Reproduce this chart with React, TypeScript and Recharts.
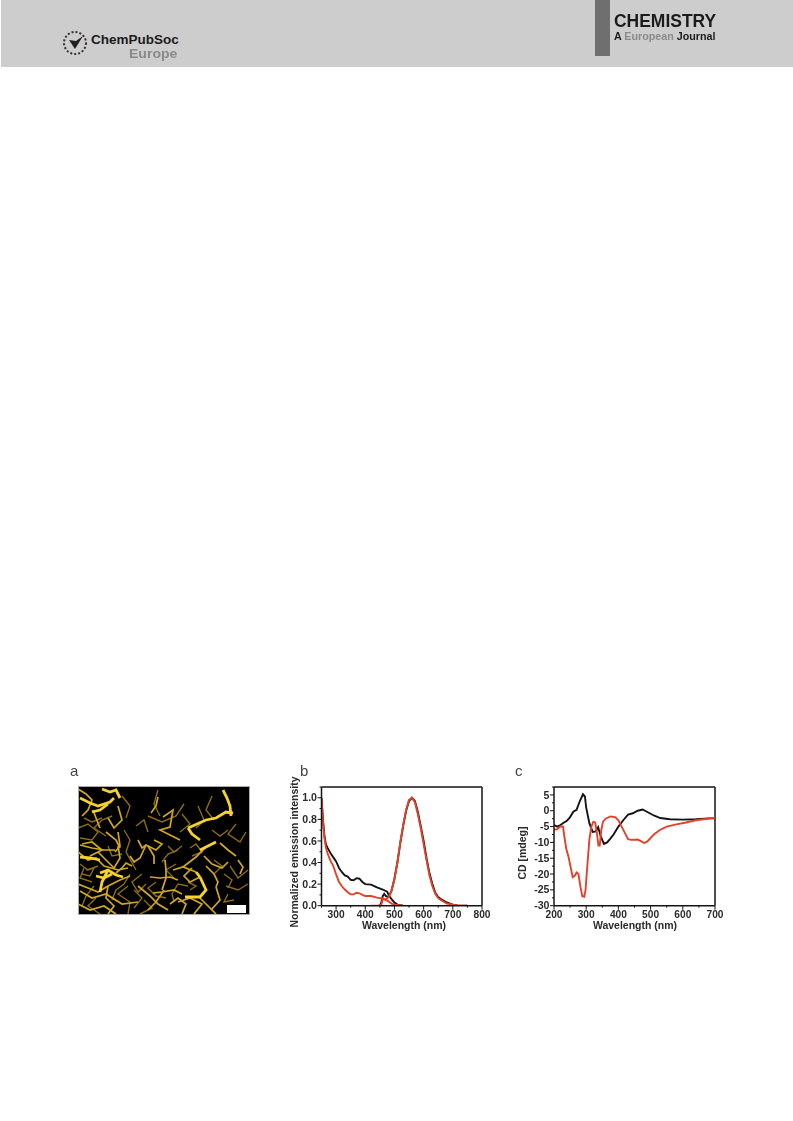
import React from "react";
import { ComposedChart, LineChart, Line, XAxis, YAxis, ReferenceLine } from "recharts";

// ---- panel b
const bExcBlack = [[250,1.0],[255,0.8],[260,0.65],[265,0.57],[270,0.54],[280,0.49],[290,0.45],[300,0.41],[310,0.35],[320,0.31],[330,0.28],[340,0.27],[350,0.24],[360,0.235],[370,0.255],[380,0.25],[390,0.22],[400,0.2],[420,0.195],[440,0.17],[460,0.15],[475,0.13],[480,0.1],[490,0.06],[500,0.03],[510,0.01],[530,0]];
const bExcRed = [[250,1.0],[255,0.78],[260,0.63],[265,0.54],[270,0.49],[280,0.42],[290,0.37],[300,0.29],[310,0.22],[320,0.18],[330,0.15],[340,0.125],[350,0.105],[360,0.105],[370,0.12],[380,0.115],[390,0.1],[400,0.09],[420,0.09],[440,0.075],[460,0.065],[480,0.04],[490,0.02],[500,0.01],[530,0]];
const bEmBlack = [[450,0],[455,0.03],[460,0.09],[465,0.11],[470,0.09],[480,0.08],[490,0.14],[500,0.25],[510,0.4],[520,0.58],[530,0.74],[540,0.88],[550,0.97],[560,1.0],[570,0.97],[580,0.87],[590,0.74],[600,0.6],[610,0.44],[620,0.3],[630,0.2],[640,0.12],[650,0.08],[660,0.06],[680,0.03],[700,0.01],[720,0],[750,0]];
const bEmRed = [[420,0],[445,0],[455,0.01],[460,0.06],[470,0.06],[480,0.08],[490,0.14],[500,0.25],[510,0.4],[520,0.59],[530,0.75],[540,0.89],[550,0.98],[560,1.0],[570,0.96],[580,0.85],[590,0.72],[600,0.57],[610,0.42],[620,0.28],[630,0.18],[640,0.11],[650,0.07],[660,0.05],[680,0.02],[700,0.01],[720,0],[750,0]];
const bXMajor = [300,400,500,600,700,800];
const bXMinor = [250,350,450,550,650,750];
const bYMajor = [0,0.2,0.4,0.6,0.8,1.0];
const bYMinor = [0.1,0.3,0.5,0.7,0.9,1.1];

// ---- panel c
const cBlack = [[200,-4.5],[210,-5],[220,-4.5],[230,-3.8],[240,-3.2],[250,-2],[260,-0.3],[270,0.3],[280,3],[290,5.2],[296,4.5],[300,1],[310,-4],[320,-6.7],[330,-6.5],[337,-5.2],[345,-8],[355,-10.5],[365,-10],[375,-8.8],[385,-7.5],[400,-5],[415,-3],[430,-1.2],[445,-0.8],[460,0],[475,0.4],[490,-0.4],[510,-1.5],[530,-2.3],[560,-2.7],[600,-2.8],[640,-2.7],[680,-2.4],[700,-2.4]];
const cRed = [[200,-6],[210,-5.8],[220,-5],[228,-5],[232,-8],[238,-12],[245,-14.5],[250,-17],[258,-21],[265,-20.5],[270,-19.5],[276,-20],[282,-24],[288,-27],[294,-27.2],[298,-25],[303,-18],[310,-9],[316,-5],[322,-3.5],[328,-3.7],[333,-7],[338,-11],[342,-11],[347,-6],[352,-3.5],[360,-2.5],[375,-1.8],[390,-2],[400,-3],[410,-5],[420,-7],[430,-9],[440,-9.2],[460,-9.1],[470,-9.6],[480,-10.2],[490,-9.7],[510,-7.5],[530,-6],[550,-5],[580,-4.3],[610,-3.7],[640,-3],[670,-2.6],[700,-2.2]];
const cXMajor = [200,300,400,500,600,700];
const cXMinor = [250,350,450,550,650];
const cYMajor = [5,0,-5,-10,-15,-20,-25,-30];
const cYMinor = [2.5,-2.5,-7.5,-12.5,-17.5,-22.5,-27.5,7.5];

const brightFibres = [
  [[2,12],[12,17],[20,20],[32,16],[36,12]],
  [[24,3],[32,6],[38,4],[42,12]],
  [[14,26],[22,24],[30,18]],
  [[145,4],[149,12],[152,20],[153,30]],
  [[147,26],[155,27]],
  [[110,42],[114,48],[122,54]],
  [[110,42],[128,34],[138,32],[148,26]],
  [[22,87],[30,84],[38,89],[45,91]],
  [[30,84],[24,96],[22,106]],
  [[18,90],[26,92],[34,88]],
  [[122,91],[128,104],[122,111],[107,111]],
  [[118,86],[122,91]],
  [[2,71],[12,72],[22,74]],
  [[122,64],[130,60],[138,56]],
];
const midFibres = [
  [[0,3],[8,8],[14,14],[10,24],[4,30]],
  [[15,24],[18,32],[22,42]],
  [[40,46],[42,60],[37,66]],
  [[2,59],[14,62],[26,64],[37,64]],
  [[0,66],[10,74],[18,72],[26,80],[40,84],[50,82]],
  [[0,98],[10,102],[20,106],[30,100],[42,94],[52,90]],
  [[2,105],[14,112],[28,108],[44,118],[60,116]],
  [[38,87],[44,82],[48,77],[54,80]],
  [[60,54],[64,62],[68,59],[78,64],[84,58],[76,54]],
  [[68,59],[62,72],[56,76],[52,70]],
  [[70,60],[76,70],[76,78]],
  [[72,91],[82,92],[92,91],[100,94]],
  [[87,74],[88,84],[88,92],[84,104]],
  [[75,107],[84,106],[96,104],[104,108]],
  [[60,100],[72,110],[80,118],[90,124]],
  [[85,31],[95,24],[92,41],[82,44],[102,54]],
  [[80,11],[78,20],[73,27]],
  [[142,57],[150,64],[158,70]],
  [[105,81],[118,71],[128,61]],
  [[95,84],[105,81],[118,86]],
  [[138,101],[142,114],[133,124]],
  [[160,74],[165,81],[162,88]],
  [[120,110],[130,120],[138,128]],
  [[100,116],[112,112],[124,118],[116,128]],
  [[40,60],[42,72],[36,82],[28,74],[20,66]],
  [[28,46],[38,54],[42,62]],
  [[40,20],[44,34],[36,42],[30,32]],
  [[4,58],[14,56],[24,64],[12,70]],
  [[122,91],[112,96],[106,90],[114,82]],
  [[70,124],[78,116],[86,104]],
  [[0,118],[12,124],[26,120],[38,128]],
  [[30,100],[28,112],[36,120],[30,128]],
  [[92,118],[100,112],[108,118],[104,128]],
  [[126,70],[134,78],[144,82],[150,76]],
  [[128,80],[136,88],[140,96],[138,101]],
];
const dimFibres = [
  [[0,42],[10,38],[20,46],[14,54],[2,52]],
  [[6,32],[14,36],[24,32]],
  [[44,10],[52,20],[48,32]],
  [[46,44],[52,54],[48,66],[58,84]],
  [[80,4],[76,18],[82,30]],
  [[70,30],[84,36],[98,30],[106,18]],
  [[58,40],[66,34],[70,46]],
  [[104,28],[112,38],[102,46]],
  [[120,20],[126,34],[118,42]],
  [[134,10],[128,24],[136,34]],
  [[158,38],[150,48],[162,56],[168,46]],
  [[152,80],[160,92],[170,84]],
  [[148,100],[160,104],[170,98]],
  [[50,100],[40,108],[52,116],[50,128]],
  [[64,88],[54,96],[60,106],[68,98]],
  [[96,92],[88,84],[98,78]],
  [[110,96],[118,100],[112,104]],
  [[6,82],[2,92],[14,96]],
  [[66,114],[74,122],[62,128]],
  [[150,108],[146,116],[156,114]],
  [[136,74],[144,80],[136,88]],
  [[30,60],[34,70],[44,68]],
  [[18,112],[10,120],[22,128]],
  [[100,64],[90,68],[84,76]],
  [[34,30],[24,34],[16,42],[28,50]],
  [[52,88],[46,98],[38,104],[34,114]],
  [[8,84],[16,82],[12,90],[4,88]],
  [[16,100],[8,110],[4,120]],
  [[56,104],[64,112],[56,122]],
  [[78,96],[70,102],[78,110],[88,112]],
  [[110,100],[100,98],[94,108],[96,116]],
  [[146,88],[154,94],[150,102]],
  [[112,62],[118,58],[124,66],[114,70]],
  [[134,44],[142,50],[150,44]],
  [[90,60],[96,66],[104,60]],
  [[2,78],[10,84],[20,80]],
];
const scaleBar = [[149,123],[168,123]];

const toXY = (pts: number[][]) => pts.map(([x, y]) => ({ x, y }));
const SANS = "'Liberation Sans', Arial, sans-serif";
const INK = "#2b2b2b";
const BLACK = "#141414";
const RED = "#e5412a";

function xTick(majors: number[]) {
  return (p: any) => {
    const v = p.payload.value;
    const major = majors.includes(v);
    return (
      <g>
        <line x1={p.x} x2={p.x} y1={p.y - 8} y2={p.y - 8 + (major ? 4 : 2)} stroke={BLACK} strokeWidth={1} />
        {major && <text x={p.x} y={p.y + 4.5} textAnchor="middle" fontFamily={SANS} fontWeight={700} fontSize={10.2} fill={INK}>{v}</text>}
      </g>
    );
  };
}
function yTick(majors: number[], digits: number) {
  return (p: any) => {
    const v = p.payload.value;
    const major = majors.includes(v);
    return (
      <g>
        <line x1={p.x + 8} x2={p.x + 8 - (major ? 4 : 2)} y1={p.y} y2={p.y} stroke={BLACK} strokeWidth={1} />
        {major && <text x={p.x + 3.5} y={p.y + 3.6} textAnchor="end" fontFamily={SANS} fontWeight={700} fontSize={10.6} fill={INK}>{v.toFixed(digits)}</text>}
      </g>
    );
  };
}
const axisText = { fontFamily: SANS, fontWeight: 700, fontSize: 10.5, fill: INK };
const axisLine = { stroke: BLACK, strokeWidth: 1.5 };

function Spectrum(props: any) {
  const { left, top, width, height, margin, xDomain, yDomain, xMajor, xMinor, yMajor, yMinor, digits, series, yLabel, yLabelX, yLabelY, xLabelX } = props;
  return (
    <div style={{ position: "absolute", left, top }}>
      <ComposedChart width={width} height={height} margin={margin}>
        <XAxis type="number" dataKey="x" domain={xDomain} ticks={[...xMajor, ...xMinor]} interval={0} height={20} tick={xTick(xMajor)} tickLine={false} axisLine={axisLine} allowDataOverflow />
        <YAxis type="number" domain={yDomain} ticks={[...yMajor, ...yMinor]} interval={0} width={30} tick={yTick(yMajor, digits)} tickLine={false} axisLine={axisLine} allowDataOverflow />
        <ReferenceLine x={xDomain[1]} stroke={BLACK} strokeWidth={1.5} />
        <ReferenceLine y={yDomain[1]} stroke={BLACK} strokeWidth={1.5} />
        {series.map((s: any, i: number) => (
          <Line key={i} data={toXY(s.points)} dataKey="y" type="linear" dot={false} stroke={s.color} strokeWidth={1.9} isAnimationActive={false} />
        ))}
        <text x={xLabelX} y={height - 11.5} textAnchor="middle" {...axisText}>Wavelength (nm)</text>
        <text x={yLabelX} y={yLabelY} textAnchor="middle" transform={`rotate(-90 ${yLabelX} ${yLabelY})`} {...axisText}>{yLabel}</text>
      </ComposedChart>
    </div>
  );
}

function Micrograph() {
  const groups = [
    { fibres: dimFibres, color: "#8a6c14", w: 1.4 },
    { fibres: midFibres, color: "#d0a81e", w: 1.7 },
    { fibres: brightFibres, color: "#f6d22a", w: 2.8 },
  ];
  const all = groups.flatMap((g) => g.fibres.map((f) => ({ f, color: g.color, w: g.w })));
  return (
    <div style={{ position: "absolute", left: 78, top: 786, width: 172, height: 129, background: "#000", overflow: "hidden" }}>
      <div style={{ filter: "blur(0.6px)" }}>
        <LineChart width={172} height={129} margin={{ top: 0, right: 0, bottom: 0, left: 0 }}>
          <XAxis type="number" dataKey="x" domain={[0, 172]} hide />
          <YAxis type="number" domain={[0, 129]} reversed hide />
          {all.map((s, i) => (
            <Line key={i} data={toXY(s.f)} dataKey="y" type="linear" dot={false} stroke={s.color} strokeWidth={s.w} isAnimationActive={false} />
          ))}
        </LineChart>
      </div>
      <div style={{ position: "absolute", inset: 0 }}>
        <LineChart width={172} height={129} margin={{ top: 0, right: 0, bottom: 0, left: 0 }}>
          <XAxis type="number" dataKey="x" domain={[0, 172]} hide />
          <YAxis type="number" domain={[0, 129]} reversed hide />
          <Line data={toXY(scaleBar)} dataKey="y" type="linear" dot={false} stroke="#fff" strokeWidth={8} isAnimationActive={false} />
        </LineChart>
      </div>
      <div style={{ position: "absolute", inset: 0, boxShadow: "inset 0 0 0 1px #aaa" }} />
    </div>
  );
}

const abs = (left: number, top: number, extra: any): any => ({ position: "absolute", left, top, whiteSpace: "nowrap", lineHeight: 1, transformOrigin: "0 0", ...extra });

function Header() {
  return (
    <>
      <div style={{ position: "absolute", left: 1, top: 0, width: 792, height: 67, background: "#cdcdcd" }} />
      <div style={{ position: "absolute", left: 595, top: 0, width: 15, height: 56, background: "#6f6f6f" }} />
      <div style={abs(614, 12, { fontFamily: SANS, fontWeight: 700, fontSize: 18, color: "#1b1b1b", transform: "scaleX(0.97)" })}>CHEMISTRY</div>
      <div style={abs(614, 31, { fontFamily: SANS, fontWeight: 700, fontSize: 10.5, color: "#1b1b1b", transform: "scaleX(1.02)" })}>
        A <span style={{ color: "#8a8a8a" }}>European</span> Journal
      </div>
      <svg style={{ position: "absolute", left: 62, top: 29 }} width={28} height={28}>
        <circle cx={13} cy={14} r={11} fill="none" stroke="#333" strokeWidth={2} strokeDasharray="2 2" />
        <path d="M7 11 L13 20 L21 7 L14 12 Z" fill="#222" />
      </svg>
      <div style={abs(91, 33, { fontFamily: SANS, fontWeight: 700, fontSize: 13.5, color: "#1b1b1b" })}>ChemPubSoc</div>
      <div style={abs(129, 46.5, { fontFamily: SANS, fontWeight: 700, fontSize: 13, color: "#8a8a8a", transform: "scaleX(1.08)" })}>Europe</div>
    </>
  );
}

export default function App() {
  const letter = { fontFamily: SANS, fontSize: 15, color: "#444" };
  return (
    <div style={{ position: "absolute", left: 0, top: 0, width: 793, height: 1121, background: "#fff", overflow: "hidden" }}>
      <Header />
      <div style={{ position: "absolute", inset: 0, filter: "blur(0.45px)" }}>
        <div style={abs(70, 763, letter)}>a</div>
        <div style={abs(300, 763, letter)}>b</div>
        <div style={abs(515, 763, letter)}>c</div>
        <Micrograph />
        <Spectrum
          left={280} top={770} width={215} height={170}
          margin={{ top: 17, right: 13, bottom: 14.3, left: 11.5 }}
          xDomain={[250, 800]} yDomain={[0, 1.1]}
          xMajor={bXMajor} xMinor={bXMinor} yMajor={bYMajor} yMinor={bYMinor} digits={1}
          series={[
            { points: bExcBlack, color: BLACK },
            { points: bEmBlack, color: BLACK },
            { points: bExcRed, color: RED },
            { points: bEmRed, color: RED },
          ]}
          yLabel="Normalized emission intensity" yLabelX={18} yLabelY={82} xLabelX={124}
        />
        <Spectrum
          left={505} top={770} width={225} height={170}
          margin={{ top: 17, right: 15, bottom: 14.3, left: 19 }}
          xDomain={[200, 700]} yDomain={[-30, 7.5]}
          xMajor={cXMajor} xMinor={cXMinor} yMajor={cYMajor} yMinor={cYMinor} digits={0}
          series={[
            { points: cBlack, color: BLACK },
            { points: cRed, color: RED },
          ]}
          yLabel="CD [mdeg]" yLabelX={21} yLabelY={83} xLabelX={130}
        />
      </div>
    </div>
  );
}
